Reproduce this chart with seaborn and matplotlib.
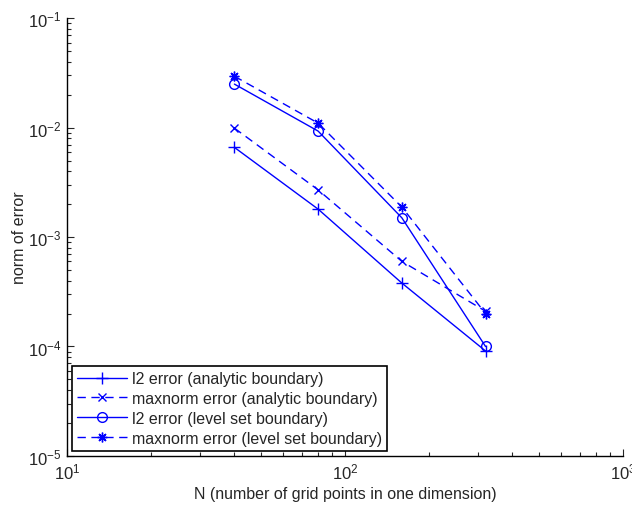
import numpy as np
import pandas as pd
import matplotlib
matplotlib.use("Agg")
import matplotlib.pyplot as plt
import seaborn as sns
from matplotlib.ticker import LogLocator, NullFormatter

# Grid resolutions and measured error norms
grid_n = [40, 80, 160, 320]
l2_analytic = [6.6e-3, 1.8e-3, 3.8e-4, 9.1e-5]
max_analytic = [9.9e-3, 2.7e-3, 6.0e-4, 2.1e-4]
l2_levelset = [2.5e-2, 9.3e-3, 1.5e-3, 1.0e-4]
max_levelset = [2.95e-2, 1.1e-2, 1.88e-3, 2.0e-4]

series_names = [
    "l2 error (analytic boundary)",
    "maxnorm error (analytic boundary)",
    "l2 error (level set boundary)",
    "maxnorm error (level set boundary)",
]
series_values = [l2_analytic, max_analytic, l2_levelset, max_levelset]
series_markers = ["+", "x", "o", (8, 2, 0)]
series_msizes = [8, 5.5, 7, 7]
series_styles = ["-", (0, (6, 4)), "-", (0, (6, 4))]

sns.set_style("ticks")
plt.rcParams["font.family"] = ["Liberation Sans", "DejaVu Sans"]
plt.rcParams["mathtext.fontset"] = "custom"
plt.rcParams["mathtext.rm"] = "Liberation Sans"
plt.rcParams["mathtext.it"] = "Liberation Sans"

fig = plt.figure(figsize=(6.32, 5.06), dpi=100)
ax = fig.add_axes([0.106, 0.097, 0.880, 0.865])

df = pd.DataFrame({
    "N": np.tile(grid_n, len(series_names)),
    "err": np.concatenate(series_values),
    "series": np.repeat(series_names, len(grid_n)),
})

handles = []
for name, mk, ms, ls in zip(series_names, series_markers, series_msizes, series_styles):
    sub = df[df["series"] == name]
    sns.lineplot(data=sub, x="N", y="err", ax=ax, color="#0000ff",
                 marker=mk, markersize=ms, markerfacecolor="none",
                 markeredgecolor="#0000ff", markeredgewidth=1.0,
                 linewidth=1.0, linestyle=ls, legend=False)
    handles.append(ax.lines[-1])

ax.set_xscale("log")
ax.set_yscale("log")
ax.set_xlim(10, 1000)
ax.set_ylim(1e-5, 1e-1)

ax.xaxis.set_major_locator(LogLocator(base=10, numticks=10))
ax.yaxis.set_major_locator(LogLocator(base=10, numticks=10))
ax.xaxis.set_minor_locator(LogLocator(base=10, subs=np.arange(2, 10), numticks=20))
ax.yaxis.set_minor_locator(LogLocator(base=10, subs=np.arange(2, 10), numticks=20))
ax.xaxis.set_minor_formatter(NullFormatter())
ax.yaxis.set_minor_formatter(NullFormatter())

sns.despine(ax=ax, top=True, right=True)
for sp in ["left", "bottom"]:
    ax.spines[sp].set_linewidth(1.0)
    ax.spines[sp].set_color("black")

ax.tick_params(which="major", direction="in", length=5, width=0.8, labelsize=12)
ax.tick_params(axis="x", which="major", pad=4)
ax.tick_params(axis="y", which="major", pad=4)
ax.tick_params(which="minor", direction="in", length=3, width=0.8)

ax.set_xlabel("N (number of grid points in one dimension)", fontsize=11.5)
ax.set_ylabel("norm of error", fontsize=11.5)
ax.xaxis.set_label_coords(0.5, -0.068)
ax.yaxis.set_label_coords(-0.072, 0.5)

leg = ax.legend(handles, series_names, loc="lower left", fontsize=11.5,
                frameon=True, fancybox=False, framealpha=1, edgecolor="black",
                borderaxespad=0.3, handlelength=3.1, handletextpad=0.3,
                labelspacing=0.3, borderpad=0.35)
leg.get_frame().set_linewidth(1.2)

fig.savefig("out.png", dpi=100)
